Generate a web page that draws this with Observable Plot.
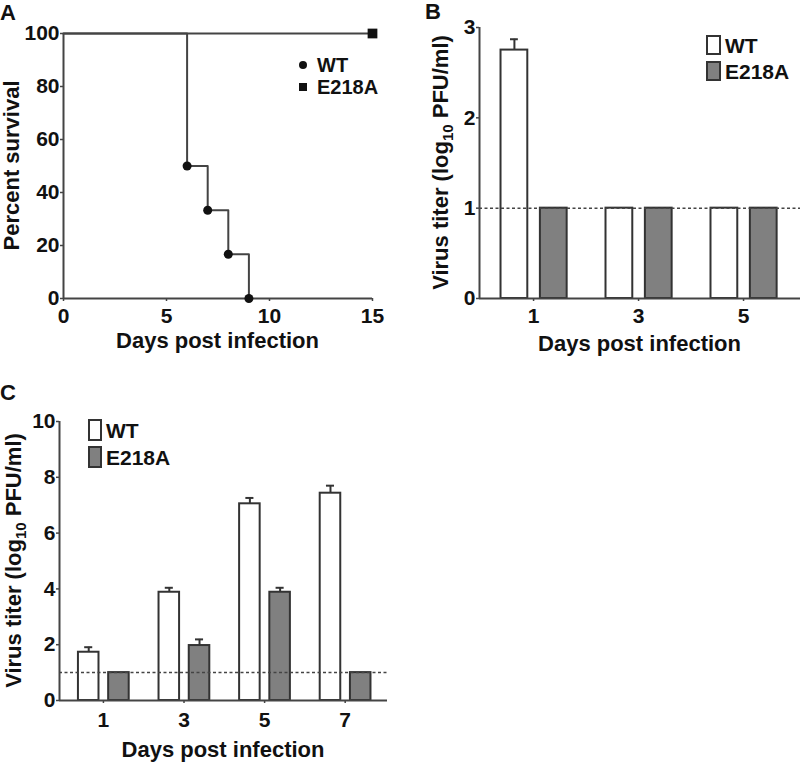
<!DOCTYPE html>
<html><head><meta charset="utf-8">
<script src="https://cdn.jsdelivr.net/npm/d3@7"></script>
<script src="https://cdn.jsdelivr.net/npm/@observablehq/plot@0.6"></script>
<style>
body{margin:0;background:#fff}
#wrap{position:relative;width:800px;height:762px;overflow:hidden;background:#fff}
#wrap svg{position:absolute}
</style></head><body><div id="wrap"></div>
<script>
// ---------- data ----------
const seriesNames = ["WT", "E218A"];
// Panel A: survival
const wtSurvDays = [0, 6, 7, 8, 9];
const wtSurvival = [100, 50, 33.3, 16.7, 0];
const e218aSurvDays = [0, 15];
const e218aSurvival = [100, 100];
const survXTicks = [0, 5, 10, 15];
const survYTicks = [0, 20, 40, 60, 80, 100];
// Panel B: titer
const bDays = [1, 3, 5];
const bWT = [2.75, 1, 1];
const bWTerr = [0.12, 0, 0];
const bE218A = [1, 1, 1];
const bE218Aerr = [0, 0, 0];
const bYTicks = [0, 1, 2, 3];
// Panel C: titer
const cDays = [1, 3, 5, 7];
const cWT = [1.73, 3.88, 7.05, 7.43];
const cWTerr = [0.18, 0.16, 0.21, 0.27];
const cE218A = [1, 1.97, 3.88, 1];
const cE218Aerr = [0, 0.22, 0.16, 0];
const cYTicks = [0, 2, 4, 6, 8, 10];
const detectionLimit = 1;

// ---------- style ----------
const FONT = "'Liberation Sans', Arial, sans-serif";
const INK = "#111";
const LINE = "#444";
const GRAY = "#808080";
const TICKFS = 21;
const wrap = document.getElementById("wrap");
const baseStyle = {fontFamily: FONT, fontWeight: "bold", fontSize: "21px", color: INK, background: "transparent", overflow: "visible"};

function place(svg, left, top) {
  svg.style.left = left + "px";
  svg.style.top = top + "px";
  wrap.appendChild(svg);
  return d3.select(svg);
}
function addText(sel, x, y, parts, opts = {}) {
  const t = sel.append("text")
    .attr("x", x).attr("y", y)
    .attr("text-anchor", opts.anchor || "middle")
    .attr("font-family", FONT).attr("font-weight", "bold")
    .attr("font-size", opts.size || 22).attr("fill", INK);
  if (opts.rotate) t.attr("transform", `rotate(${opts.rotate},${x},${y})`);
  if (opts.dy) t.attr("dy", opts.dy);
  for (const p of (Array.isArray(parts) ? parts : [parts])) {
    if (typeof p === "string") t.append("tspan").text(p);
    else t.append("tspan").attr("font-size", p.size).attr("dy", p.dy).text(p.text);
  }
  return t;
}
const fmt = d3.format("d");

// ---------- Panel A ----------
{
  const W = 400, H = 380, m = {top: 33, right: 28, bottom: 82, left: 63};
  const wt = wtSurvDays.map((d, i) => ({day: d, pct: wtSurvival[i]}));
  const e = e218aSurvDays.map((d, i) => ({day: d, pct: e218aSurvival[i]}));
  const svg = Plot.plot({
    width: W, height: H, marginTop: m.top, marginRight: m.right, marginBottom: m.bottom, marginLeft: m.left,
    style: baseStyle,
    x: {domain: [0, 15], label: null},
    y: {domain: [0, 100], label: null},
    marks: [
      Plot.axisY({ticks: survYTicks, tickFormat: fmt, fontSize: TICKFS, tickSize: 3, tickPadding: 1, stroke: LINE, strokeWidth: 1.5, label: null}),
      Plot.axisX({ticks: survXTicks, tickFormat: fmt, fontSize: TICKFS, tickSize: 3, tickPadding: 7, stroke: LINE, strokeWidth: 1.5, label: null}),
      Plot.ruleX([0], {stroke: LINE, strokeWidth: 2}),
      Plot.ruleY([0], {stroke: LINE, strokeWidth: 2}),
      Plot.line(e, {x: "day", y: "pct", stroke: LINE, strokeWidth: 2}),
      Plot.line(wt, {x: "day", y: "pct", curve: "step-after", stroke: LINE, strokeWidth: 2}),
      Plot.dot(wt.slice(1), {x: "day", y: "pct", r: 4.5, fill: INK, stroke: "none"}),
      Plot.dot(e.slice(-1), {x: "day", y: "pct", symbol: "square", r: 5.5, fill: INK, stroke: "none"})
    ]
  });
  const s = place(svg, 0, 0);
  addText(s, 0, 20, "A", {anchor: "start", size: 22});
  addText(s, (m.left + W - m.right) / 2, 348, "Days post infection");
  addText(s, 19, (m.top + H - m.bottom) / 2, "Percent survival", {rotate: -90});
  // legend
  s.append("circle").attr("cx", 303).attr("cy", 65).attr("r", 4).attr("fill", INK);
  s.append("rect").attr("x", 299).attr("y", 83).attr("width", 8).attr("height", 8).attr("fill", INK);
  addText(s, 317, 65, seriesNames[0], {anchor: "start", size: 20, dy: "0.36em"});
  addText(s, 317, 87, seriesNames[1], {anchor: "start", size: 20, dy: "0.36em"});
}

// ---------- bar helper ----------
const OFF = {WT: [-0.62, -0.11], E218A: [0.13, 0.64]};
function rows(days, wt, wterr, e, eerr) {
  const out = [];
  days.forEach((d, i) => {
    out.push({day: d, group: "WT", value: wt[i], err: wterr[i]});
    out.push({day: d, group: "E218A", value: e[i], err: eerr[i]});
  });
  return out;
}
const x1 = r => r.day + OFF[r.group][0];
const x2 = r => r.day + OFF[r.group][1];
const xc = r => r.day + (OFF[r.group][0] + OFF[r.group][1]) / 2;

function barPanel({W, H, m, xDomain, yDomain, yTicks, xTicks, data, cap, xPad}) {
  const withErr = data.filter(r => r.err > 0);
  return Plot.plot({
    width: W, height: H, marginTop: m.top, marginRight: m.right, marginBottom: m.bottom, marginLeft: m.left,
    style: baseStyle,
    x: {domain: xDomain, label: null},
    y: {domain: yDomain, label: null},
    marks: [
      Plot.axisY({ticks: yTicks, tickFormat: fmt, fontSize: TICKFS, tickSize: 3, tickPadding: 1, stroke: LINE, strokeWidth: 1.5, label: null}),
      Plot.axisX({ticks: xTicks, tickFormat: fmt, fontSize: TICKFS, tickSize: 3, tickPadding: xPad, stroke: LINE, strokeWidth: 1.5, label: null}),
      Plot.ruleX(withErr, {x: xc, y1: "value", y2: r => r.value + r.err, stroke: "#333", strokeWidth: 2}),
      Plot.ruleY(withErr, {y: r => r.value + r.err, x1: r => xc(r) - cap, x2: r => xc(r) + cap, stroke: "#333", strokeWidth: 2}),
      Plot.rectY(data, {x1, x2, y1: 0, y2: "value", fill: r => r.group === "WT" ? "#fff" : GRAY, stroke: "#333", strokeWidth: 2}),
      Plot.ruleY([detectionLimit], {stroke: LINE, strokeWidth: 1.5, strokeDasharray: "3,2.5"}),
      Plot.ruleX([xDomain[0]], {stroke: LINE, strokeWidth: 2}),
      Plot.ruleY([0], {stroke: LINE, strokeWidth: 2})
    ]
  });
}
function barLegend(s, x, y0, y1, w, h, tx) {
  [y0, y1].forEach((y, i) => {
    s.append("rect").attr("x", x).attr("y", y - h / 2).attr("width", w).attr("height", h)
      .attr("fill", i === 0 ? "#fff" : GRAY).attr("stroke", "#333").attr("stroke-width", 2);
    addText(s, tx, y, seriesNames[i], {anchor: "start", size: 21, dy: "0.36em"});
  });
}
const titerLabel = ["Virus titer (log", {text: "10", size: 15, dy: 5}, {text: " PFU/ml)", size: 22, dy: -5}];

// ---------- Panel B ----------
{
  const W = 400, H = 380, m = {top: 27, right: 0, bottom: 82, left: 79};
  const svg = barPanel({W, H, m, xDomain: [-0.03, 6.085], yDomain: [0, 3], yTicks: bYTicks, xTicks: bDays,
    data: rows(bDays, bWT, bWTerr, bE218A, bE218Aerr), cap: 0.075, xPad: 7});
  const s = place(svg, 400, 0);
  addText(s, 25, 19, "B", {anchor: "start", size: 22});
  addText(s, (m.left + W - m.right) / 2, 351, "Days post infection");
  addText(s, 48, (m.top + H - m.bottom) / 2, titerLabel, {rotate: -90});
  barLegend(s, 307, 45, 71, 13, 18, 325);
}

// ---------- Panel C ----------
{
  const W = 400, H = 382, m = {top: 41, right: 13, bottom: 62, left: 59};
  const svg = barPanel({W, H, m, xDomain: [-0.09, 8.05], yDomain: [0, 10], yTicks: cYTicks, xTicks: cDays,
    data: rows(cDays, cWT, cWTerr, cE218A, cE218Aerr), cap: 0.1, xPad: 9});
  const s = place(svg, 0, 380);
  addText(s, 0, 20, "C", {anchor: "start", size: 22});
  addText(s, (m.left + W - m.right) / 2, 377, "Days post infection");
  addText(s, 21, (m.top + H - m.bottom) / 2, titerLabel, {rotate: -90});
  barLegend(s, 89, 50, 77, 12, 20, 106);
}
</script></body></html>
